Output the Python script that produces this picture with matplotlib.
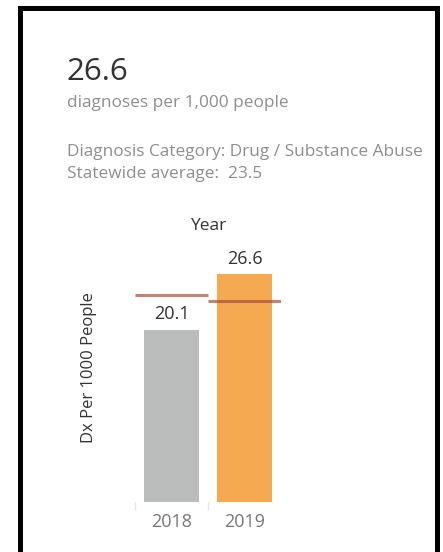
import matplotlib
matplotlib.use("Agg")
import matplotlib.pyplot as plt
from matplotlib.lines import Line2D

# Dades
years = ["2018", "2019"]
rates = [20.1, 26.6]
state_avg = [24.1, 23.5]
headline = "26.6"
subtitle = "diagnoses per 1,000 people"
category = "Diagnosis Category: Drug / Substance Abuse"
avg_text = "Statewide average:  23.5"

bar_colors = ["#babdbc", "#f5aa52"]
W, H = 443, 552

plt.rcParams["font.family"] = ["Open Sans", "DejaVu Sans"]

fig = plt.figure(figsize=(W / 100, H / 100), dpi=100)
fig.patch.set_facecolor("white")

def px(x, y):
    return x / W, 1 - y / H

# Marc negre
lw = 5 * 72 / 100
for xs, ys in [((19.5, 19.5), (552, 7.5)), ((19.5, 436.5), (7.5, 7.5)), ((436.5, 436.5), (7.5, 552))]:
    fig.add_artist(Line2D([x / W for x in xs], [1 - y / H for y in ys], color="black",
                          lw=lw, solid_capstyle="projecting", transform=fig.transFigure))

# Capçalera
fig.text(*px(66, 80), headline, fontsize=22.5, color="#333333", va="baseline")
fig.text(*px(67, 107), subtitle, fontsize=12.4, color="#8f8f8f", va="baseline")
fig.text(*px(67, 156), category, fontsize=12.4, color="#8f8f8f", va="baseline")
fig.text(*px(67, 178), avg_text, fontsize=12.4, color="#8f8f8f", va="baseline")

# Eixos
scale = 8.57  # px per unitat
base_y, top_y = 502, 240
left, right = 135, 281
ax = fig.add_axes([left / W, 1 - base_y / H, (right - left) / W, (base_y - top_y) / H])
ax.set_xlim(-0.5, 1.5)
ax.set_ylim(0, (base_y - top_y) / scale)
x = list(range(len(years)))
ax.bar(x, rates, width=0.74, color=bar_colors)
for i, v in enumerate(rates):
    ax.text(i, v + 0.75, f"{v}", ha="center", va="bottom", fontsize=13, color="#333333")
for i, a in enumerate(state_avg):
    ax.hlines(a, i - 0.5, i + 0.5, color="#a5503c", lw=2.2, alpha=0.7)

for s in ax.spines.values():
    s.set_visible(False)
ax.set_yticks([])
ax.set_xticks(x)
ax.set_xticklabels(years, fontsize=13, color="#777777")
ax.tick_params(axis="x", which="major", length=0, pad=8)
ax.set_xticks([-0.5, 0.5], minor=True)
ax.tick_params(axis="x", which="minor", length=6, color="#e6e6e6", width=1)
ax.set_facecolor("none")

fig.text(*px(208, 226), "Year", ha="center", va="center", fontsize=12.5, color="#333333")
fig.text(*px(89, 368), "Dx Per 1000 People", ha="center", va="center", rotation=90,
         fontsize=12, color="#333333")

fig.savefig("out.png", dpi=100)
